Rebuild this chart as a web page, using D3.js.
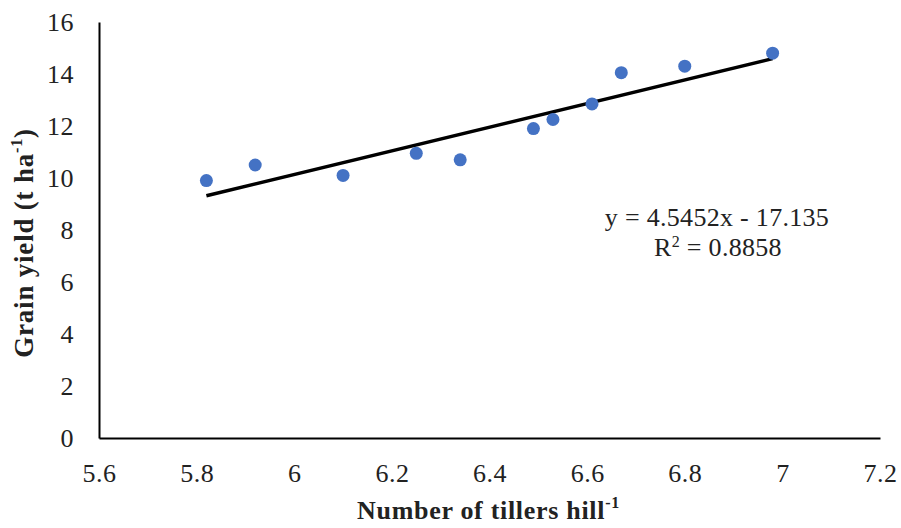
<!DOCTYPE html>
<html>
<head>
<meta charset="utf-8">
<script src="https://cdn.jsdelivr.net/npm/d3@7"></script>
<style>
  body { margin: 0; background: #fff; }
  svg { display: block; }
  svg text { font-family: "Liberation Serif", "DejaVu Serif", serif; }
</style>
</head>
<body>
<svg width="901" height="528"></svg>
<script>
// data
var tillers = [5.82, 5.92, 6.10, 6.25, 6.34, 6.49, 6.53, 6.61, 6.67, 6.80, 6.98];
var grainYield = [9.9, 10.5, 10.1, 10.95, 10.7, 11.9, 12.25, 12.85, 14.05, 14.3, 14.8];
var xTicks = [5.6, 5.8, 6, 6.2, 6.4, 6.6, 6.8, 7, 7.2];
var yTicks = [0, 2, 4, 6, 8, 10, 12, 14, 16];
var slope = 4.5452, intercept = -17.135, rSquared = 0.8858;

document.addEventListener('DOMContentLoaded', function () {
    const svg = d3.select('svg');
    const margin = { top: 22, left: 99, right: 21, bottom: 90 };
    const width = 901, height = 528;
    const innerWidth = width - margin.left - margin.right;
    const innerHeight = height - margin.top - margin.bottom;

    const xScale = d3.scaleLinear().domain([5.6, 7.2]).range([0, innerWidth]);
    const yScale = d3.scaleLinear().domain([0, 16]).range([innerHeight, 0]);

    const g = svg.append('g')
        .attr('transform', 'translate(' + margin.left + ',' + margin.top + ')');

    // axes
    const xAxis = d3.axisBottom(xScale).tickValues(xTicks).tickSize(0).tickPadding(26)
        .tickFormat(d3.format('~g'));
    const yAxis = d3.axisLeft(yScale).tickValues(yTicks).tickSize(0).tickPadding(25);

    const gx = g.append('g').attr('transform', `translate(0,${innerHeight})`).call(xAxis);
    const gy = g.append('g').call(yAxis);
    [gx, gy].forEach(a => {
        a.attr('font-family', null).attr('font-size', null);
        a.select('.domain').attr('stroke', '#000').attr('stroke-width', 2);
        a.selectAll('text').style('font-size', '26px').style('letter-spacing', '0.5px')
            .attr('fill', '#222');
    });

    // trendline over the data range
    const xMin = d3.min(tillers), xMax = d3.max(tillers);
    g.append('line')
        .attr('x1', xScale(xMin)).attr('y1', yScale(slope * xMin + intercept))
        .attr('x2', xScale(xMax)).attr('y2', yScale(slope * xMax + intercept))
        .attr('stroke', '#000').attr('stroke-width', 3.5);

    // points
    g.selectAll('circle')
        .data(tillers.map((t, i) => ({ x: t, y: grainYield[i] })))
        .join('circle')
        .attr('cx', d => xScale(d.x))
        .attr('cy', d => yScale(d.y))
        .attr('r', 6.5)
        .attr('fill', '#4472c4');

    // equation
    svg.append('text')
        .attr('text-anchor', 'middle').attr('x', 717).attr('y', 226)
        .attr('font-size', 26).style('letter-spacing', '0.3px').attr('fill', '#222')
        .text('y = ' + slope + 'x - ' + Math.abs(intercept));
    const r2 = svg.append('text')
        .attr('text-anchor', 'middle').attr('x', 718).attr('y', 256)
        .attr('font-size', 26).style('letter-spacing', '0.3px').attr('fill', '#222');
    r2.append('tspan').text('R');
    r2.append('tspan').attr('font-size', 16).attr('dy', -9).text('2');
    r2.append('tspan').attr('dy', 9).text(' = ' + rSquared);

    // axis titles
    const xt = svg.append('text')
        .attr('x', margin.left + innerWidth / 2 - 1).attr('y', 519)
        .attr('text-anchor', 'middle').attr('font-weight', 'bold')
        .attr('font-size', 26).style('letter-spacing', '0.7px').attr('fill', '#222');
    xt.append('tspan').text('Number of tillers hill');
    xt.append('tspan').attr('font-size', 16).attr('dy', -11).text('-1');

    const yt = svg.append('text')
        .attr('transform', 'translate(33,243) rotate(-90)')
        .attr('text-anchor', 'middle').attr('font-weight', 'bold')
        .attr('font-size', 27).style('letter-spacing', '0.8px').attr('fill', '#222');
    yt.append('tspan').text('Grain yield (t ha');
    yt.append('tspan').attr('font-size', 16).attr('dy', -11).text('-1');
    yt.append('tspan').attr('dy', 11).text(')');
});
</script>
</body>
</html>
